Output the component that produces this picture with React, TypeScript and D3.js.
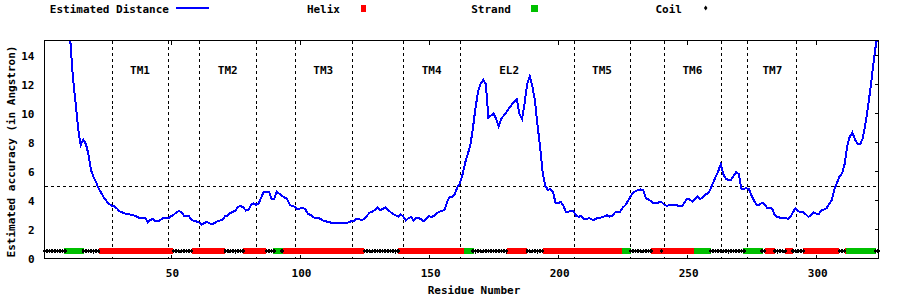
import React from 'react';
import * as d3 from 'd3';

// Estimated distance per residue (residues 1..324)
const distance: number[] = [
  22.0, 21.1, 20.3, 19.6, 18.9, 18.2, 17.5, 16.8, 16.2, 15.6,
  15.0, 12.5, 10.8, 9.0, 7.8, 8.2, 7.9, 7.2, 6.1, 5.6,
  5.25, 4.8, 4.5, 4.2, 3.95, 3.75, 3.63, 3.58, 3.45, 3.25,
  3.18, 3.1, 3.05, 3.02, 3.0, 2.93, 2.86, 2.76, 2.8, 2.78,
  2.5, 2.65, 2.7, 2.55, 2.55, 2.66, 2.8, 2.78, 2.76, 2.9,
  3.0, 3.15, 3.26, 3.2, 2.94, 2.94, 2.9, 2.62, 2.6, 2.53,
  2.46, 2.32, 2.45, 2.5, 2.4, 2.34, 2.45, 2.55, 2.6, 2.66,
  2.92, 2.94, 3.12, 3.2, 3.3, 3.55, 3.63, 3.5, 3.3, 3.33,
  3.68, 3.79, 3.68, 3.8, 4.2, 4.6, 4.6, 4.6, 4.1, 4.1,
  4.6, 4.45, 4.3, 4.2, 4.1, 3.7, 3.6, 3.56, 3.4, 3.43,
  3.48, 3.4, 3.08, 3.0, 2.85, 2.76, 2.8, 2.7, 2.6, 2.55,
  2.5, 2.46, 2.46, 2.46, 2.45, 2.42, 2.41, 2.41, 2.5, 2.57,
  2.6, 2.74, 2.7, 2.62, 2.75, 2.95, 3.15, 3.2, 3.35, 3.52,
  3.3, 3.4, 3.52, 3.36, 3.2, 3.05, 2.97, 2.88, 3.03, 2.88,
  2.62, 2.76, 2.85, 2.6, 2.78, 2.78, 2.68, 2.55, 2.72, 2.9,
  2.83, 2.95, 3.1, 3.22, 3.26, 3.35, 3.9, 4.25, 4.21, 4.45,
  4.9, 5.2, 5.8, 6.6, 7.2, 7.8, 9.0, 10.4, 11.5, 12.07,
  12.3, 12.0, 9.7, 9.85, 10.0, 9.6, 9.1, 9.65, 9.85, 10.1,
  10.35, 10.6, 10.8, 10.95, 9.95, 9.6, 10.7, 12.0, 12.55, 11.85,
  10.9, 9.2, 7.7, 5.9, 5.0, 4.72, 4.78, 4.6, 3.79, 3.8,
  3.9, 3.65, 3.2, 3.2, 3.3, 3.25, 2.92, 2.87, 2.92, 2.69,
  2.7, 2.78, 2.68, 2.66, 2.76, 2.8, 2.82, 2.9, 2.97, 2.87,
  2.95, 3.15, 3.21, 3.21, 3.5, 3.65, 3.95, 4.27, 4.5, 4.63,
  4.7, 4.75, 4.7, 4.14, 4.05, 3.95, 3.78, 3.78, 3.86, 3.88,
  3.72, 3.62, 3.66, 3.65, 3.65, 3.66, 3.58, 3.6, 3.85, 4.12,
  4.05, 3.92, 4.07, 4.25, 4.07, 4.22, 4.4, 4.47, 4.75, 5.2,
  5.6, 6.0, 6.5, 5.8, 5.48, 5.4, 5.42, 5.7, 5.95, 5.8,
  4.8, 4.8, 4.83, 4.75, 4.3, 3.95, 3.68, 3.68, 3.85, 3.7,
  3.48, 3.5, 3.4, 2.95, 2.85, 2.8, 2.8, 2.78, 2.72, 2.85,
  3.2, 3.45, 3.25, 3.17, 3.17, 3.03, 2.85, 3.0, 3.15, 3.08,
  3.06, 3.3, 3.36, 3.45, 3.75, 4.02, 4.75, 5.2, 5.65, 5.85,
  6.5, 7.75, 8.4, 8.68, 8.2, 7.88, 7.86, 8.28, 9.2, 10.4,
  11.7, 13.2, 14.6, 15.6,
];

// Secondary structure ranges (inclusive residue numbers); all others are coil
const helixRanges: [number, number][] = [
  [23, 50], [59, 70], [79, 86], [94, 124], [139, 164], [181, 187], [195, 225],
  [237, 239], [241, 253], [281, 283], [289, 290], [296, 308], [312, 312],
];
const strandRanges: [number, number][] = [
  [10, 15], [91, 92], [165, 166], [226, 227], [254, 258], [273, 278], [313, 322],
];

const tmBoundaries = [27, 49, 61, 83, 98, 120, 140, 162, 206, 228, 241, 263, 273, 292];
const regionLabels = ['TM1', 'TM2', 'TM3', 'TM4', 'EL2', 'TM5', 'TM6', 'TM7'];
const regionLabelResidues = [38, 72, 109, 151, 181, 217, 252, 283];
const xTicks = [50, 100, 150, 200, 250, 300];
const yTicks = [0, 2, 4, 6, 8, 10, 12, 14];
const cutoffLevel = 5;
const ssLevel = 0.5;
const legendNames = ['Estimated Distance', 'Helix', 'Strand', 'Coil'];

const FONT = '"DejaVu Sans Mono", "Liberation Mono", monospace';

export default function App() {
  const W = 900;
  const H = 300;
  const left = 44.5, right = 878.5, top = 40.5, bottom = 258.5;
  const x = d3.scaleLinear().domain([1, 324]).range([44.5, 878.2]);
  const y = d3.scaleLinear().domain([0, 15]).range([258.3, 40.8]);

  const inRanges = (r: number, rs: [number, number][]) => rs.some(([a, b]) => r >= a && r <= b);
  const residues = distance.map((_, i) => i + 1);
  const helixRes = residues.filter((r) => inRanges(r, helixRanges));
  const strandRes = residues.filter((r) => inRanges(r, strandRanges));
  const coilRes = residues.filter((r) => !inRanges(r, helixRanges) && !inRanges(r, strandRanges));

  const line = d3
    .line<number>()
    .x((_, i) => x(i + 1))
    .y((d) => y(d));

  const ssY = y(ssLevel);
  const textStyle = { fontFamily: FONT, fontWeight: 700, fontSize: 11 } as const;

  const legendTextEnd = [169, 340, 511, 682];
  const legendSample = [192.5, 363.5, 534.5, 705.7];
  const legendY = 8;

  const diamond = (cx: number, cy: number, w: number, h: number) =>
    `M${cx},${cy - h / 2}L${cx + w / 2},${cy}L${cx},${cy + h / 2}L${cx - w / 2},${cy}Z`;

  return (
    <svg
      width={W}
      height={H}
      style={{ position: 'absolute', left: 0, top: 0, background: '#fff' }}
    >
      <defs>
        <clipPath id="plotclip">
          <rect x={left} y={top} width={right - left} height={bottom - top} />
        </clipPath>
      </defs>

      {/* Legend */}
      {legendNames.map((name, i) => (
        <text key={name} x={legendTextEnd[i]} y={12.5} textAnchor="end" {...textStyle}>
          {name}
        </text>
      ))}
      <line x1={legendSample[0] - 16.5} x2={legendSample[0] + 16.5} y1={7.5} y2={7.5} stroke="#0000ff" strokeWidth={2} shapeRendering="crispEdges" />
      <rect x={legendSample[1] - 2.5} y={legendY - 3.5} width={5} height={7} fill="#ff0000" shapeRendering="crispEdges" />
      <rect x={legendSample[2] - 3.5} y={legendY - 3.5} width={7} height={7} fill="#00c000" shapeRendering="crispEdges" />
      <path d={diamond(legendSample[3], legendY, 3.5, 5)} fill="#000" />

      {/* Grid: TM boundaries and cutoff */}
      {tmBoundaries.map((r) => (
        <line
          key={r}
          x1={Math.round(x(r)) + 0.5}
          x2={Math.round(x(r)) + 0.5}
          y1={top}
          y2={bottom}
          stroke="#000"
          strokeWidth={1}
          strokeDasharray="3,3"
          shapeRendering="crispEdges"
        />
      ))}
      <line
        x1={left}
        x2={right}
        y1={Math.round(y(cutoffLevel)) + 0.5}
        y2={Math.round(y(cutoffLevel)) + 0.5}
        stroke="#000"
        strokeWidth={1}
        strokeDasharray="3,3"
        shapeRendering="crispEdges"
      />

      {/* Region labels */}
      {regionLabels.map((lab, i) => (
        <text key={lab} x={x(regionLabelResidues[i])} y={74} textAnchor="middle" {...textStyle}>
          {lab}
        </text>
      ))}

      {/* Distance line */}
      <g clipPath="url(#plotclip)">
        <path d={line(distance) || ''} fill="none" stroke="#0000ff" strokeWidth={2} shapeRendering="crispEdges" strokeLinejoin="miter" />
      </g>

      {/* Secondary structure strip */}
      {helixRes.map((r) => (
        <rect key={'h' + r} x={x(r) - 2.5} y={ssY - 3} width={5} height={6} fill="#ff0000" shapeRendering="crispEdges" />
      ))}
      {strandRes.map((r) => (
        <rect key={'e' + r} x={x(r) - 3.4} y={ssY - 3.2} width={6.8} height={6.5} fill="#00c000" shapeRendering="crispEdges" />
      ))}
      {coilRes.map((r) => (
        <path key={'c' + r} d={diamond(x(r), ssY, 4, 5)} fill="#000" shapeRendering="crispEdges" />
      ))}

      {/* Frame */}
      <rect x={left} y={top} width={right - left - 0.5} height={bottom - top - 0.5} fill="none" stroke="#000" strokeWidth={1} shapeRendering="crispEdges" />

      {/* X ticks */}
      {xTicks.map((t) => (
        <g key={'xt' + t}>
          <line x1={Math.round(x(t)) + 0.5} x2={Math.round(x(t)) + 0.5} y1={bottom} y2={bottom - 4} stroke="#000" shapeRendering="crispEdges" />
          <line x1={Math.round(x(t)) + 0.5} x2={Math.round(x(t)) + 0.5} y1={top} y2={top + 4} stroke="#000" shapeRendering="crispEdges" />
          <text x={x(t) + 1.5} y={276.5} textAnchor="middle" {...textStyle}>
            {t}
          </text>
        </g>
      ))}

      {/* Y ticks */}
      {yTicks.map((t) => (
        <g key={'yt' + t}>
          <line x1={right - 0.5} x2={right - 4} y1={Math.round(y(t)) + 0.5} y2={Math.round(y(t)) + 0.5} stroke="#000" shapeRendering="crispEdges" />
          <text x={34.5} y={y(t) + 5} textAnchor="end" {...textStyle}>
            {t}
          </text>
        </g>
      ))}

      {/* Axis titles */}
      <text x={474} y={293.5} textAnchor="middle" {...textStyle}>
        Residue Number
      </text>
      <text transform="translate(15,151.5) rotate(-90)" textAnchor="middle" {...textStyle}>
        Estimated accuracy (in Angstron)
      </text>
    </svg>
  );
}
